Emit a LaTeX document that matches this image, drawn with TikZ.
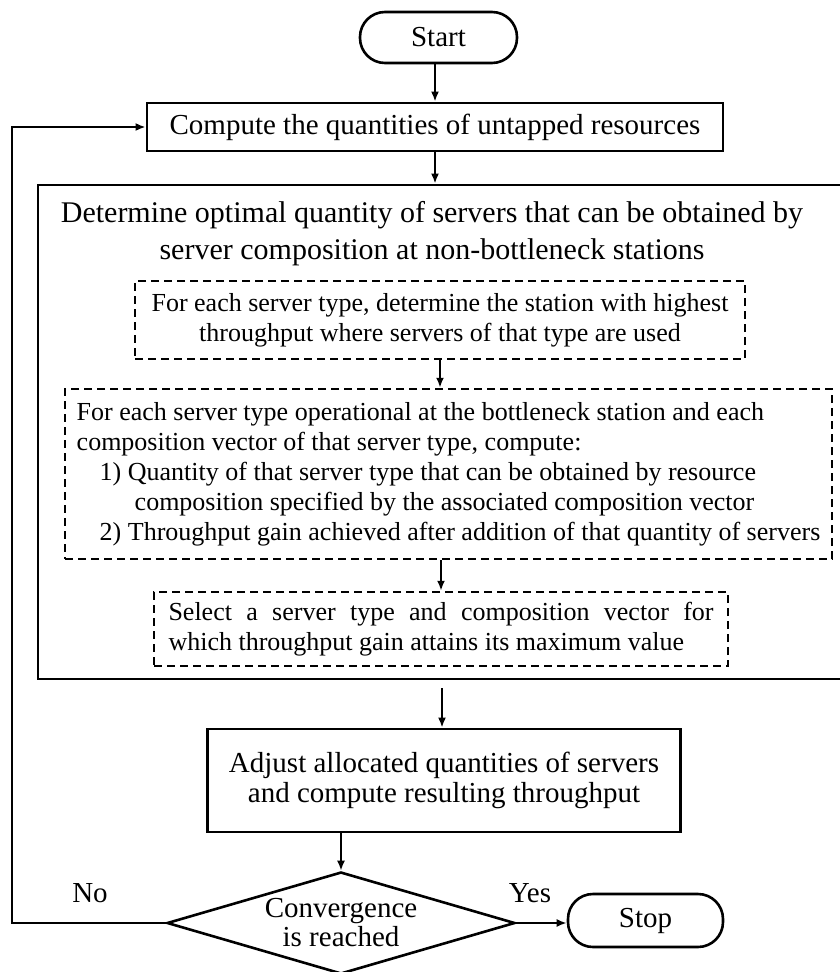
\documentclass[tikz,border=0pt]{standalone}
\usepackage{fontspec}
\setmainfont{Liberation Serif}
\usepackage{tikz}
\usetikzlibrary{shapes.geometric,arrows.meta}
\tikzstyle{term} = [draw, line width=2.6pt, rounded corners=25pt, font=\fontsize{29}{30}\selectfont]
\tikzstyle{proc} = [draw, line width=2.8pt, align=center, font=\fontsize{29}{30}\selectfont]
\tikzstyle{sub} = [draw, line width=2.5pt, dash pattern=on 8pt off 5pt, font=\fontsize{26}{30}\selectfont]
\tikzstyle{cond} = [draw, diamond, line width=2.6pt, aspect=3.4, inner sep=0pt, align=center, font=\fontsize{29}{29}\selectfont]
\tikzstyle{lbl} = [font=\fontsize{29}{30}\selectfont]
\tikzstyle{flow} = [line width=2.3pt, -{Latex[length=10pt,width=8pt]}]

\begin{document}
\begin{tikzpicture}[x=1pt, y=-1pt]
    \useasboundingbox (0,0) rectangle (839,972);
    % main column
    \node[term, minimum width=157pt, minimum height=51pt] (start) at (438.5,37.5) {Start};
    \node[proc, minimum width=576pt, minimum height=48pt] (compute) at (435,127) {Compute the quantities of untapped resources};
    \node[draw, line width=2.8pt, minimum width=812pt, minimum height=494pt] (outer) at (444,432) {};
    \node[lbl, align=center, font=\fontsize{30}{30}\selectfont] (title) at (432,234)
        {Determine optimal quantity of servers that can be obtained by\\[7pt]
         server composition at non-bottleneck stations};
    % inner steps
    \node[sub, align=center, minimum width=610pt, minimum height=78pt] (highest) at (440,320)
        {For each server type, determine the station with highest\\
         throughput where servers of that type are used};
    \node[sub, align=left, minimum width=767pt, minimum height=170pt] (gain) at (448.5,474)
        {For each server type operational at the bottleneck station and each\\
         composition vector of that server type, compute:\\
         \hspace*{23pt}1) Quantity of that server type that can be obtained by resource\\
         \hspace*{58pt}composition specified by the associated composition vector\\
         \hspace*{23pt}2) Throughput gain achieved after addition of that quantity of servers};
    \node[sub, align=justify, text width=545pt, minimum width=574pt, minimum height=74pt] (select) at (441,629)
        {Select a server type and composition vector for\linebreak
         which throughput gain attains its maximum value};
    \node[proc, minimum width=473pt, minimum height=103pt] (adjust) at (444,780.5)
        {Adjust allocated quantities of servers\\ and compute resulting throughput};
    \node[cond, minimum width=348pt, minimum height=102pt] (conv) at (341,923)
        {Convergence\\ is reached};
    \node[term, minimum width=155pt, minimum height=53pt] (stop) at (645.5,920.5) {Stop};
    \node[lbl] (no) at (90,893) {No};
    \node[lbl] (yes) at (530,893) {Yes};
    \coordinate (loop) at (12,923);
    \coordinate (below) at (442,688);

    % connectors
    \draw[flow] (start.south -| compute.north) -- (compute.north);
    \draw[flow] (compute.south) -- (compute.south |- outer.north);
    \draw[flow] (highest.south) -- (highest.south |- gain.north);
    \draw[flow] (select.north |- gain.south) -- (select.north);
    \draw[flow] (below) -- (below |- adjust.north);
    \draw[flow] (adjust.south -| conv.north) -- (conv.north);
    \draw[flow] (conv.east) -- (conv.east -| stop.west);
    \draw[flow] (conv.west) -- (loop) |- (compute.west);
\end{tikzpicture}
\end{document}
